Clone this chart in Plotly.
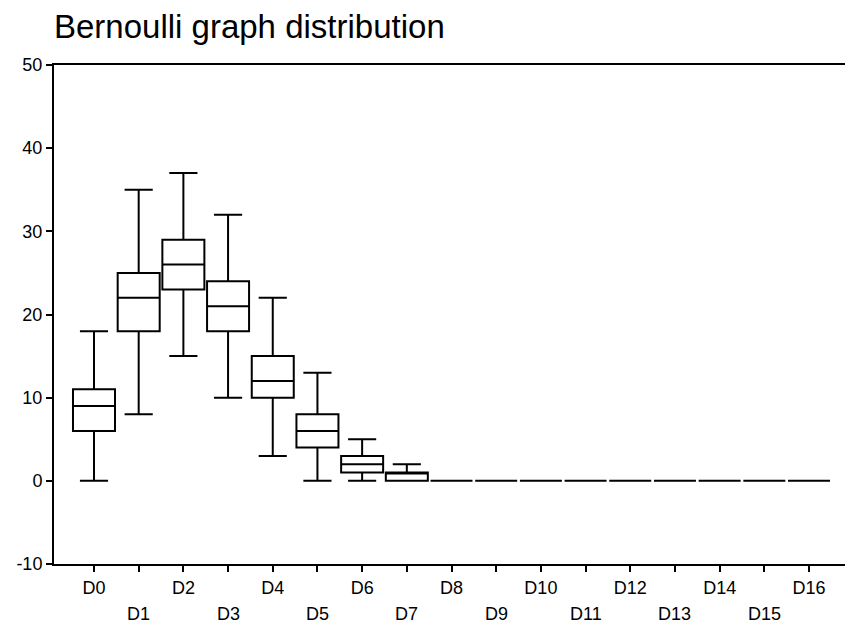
import plotly.graph_objects as go

categories = [f"D{i}" for i in range(17)]
positions = list(range(17))
lower = [0, 8, 15, 10, 3, 0, 0, 0, 0, 0, 0, 0, 0, 0, 0, 0, 0]
q1 = [6, 18, 23, 18, 10, 4, 1, 0, 0, 0, 0, 0, 0, 0, 0, 0, 0]
median = [9, 22, 26, 21, 12, 6, 2, 1, 0, 0, 0, 0, 0, 0, 0, 0, 0]
q3 = [11, 25, 29, 24, 15, 8, 3, 1, 0, 0, 0, 0, 0, 0, 0, 0, 0]
upper = [18, 35, 37, 32, 22, 13, 5, 2, 0, 0, 0, 0, 0, 0, 0, 0, 0]
y_ticks = [-10, 0, 10, 20, 30, 40, 50]
y_tick_labels = ["-10", "0", "10", "20", "30", "40", "50"]

FONT = "Arial, Liberation Sans, sans-serif"
xr = [-0.895, 16.805]

fig = go.Figure()
fig.add_trace(go.Box(
    x=positions, q1=q1, median=median, q3=q3,
    lowerfence=lower, upperfence=upper,
    width=0.94,
    fillcolor="rgba(255,255,255,0)",
    line=dict(color="black", width=2),
    whiskerwidth=0.67,
    boxpoints=False,
    hoverinfo="skip",
    showlegend=False,
))

# two-row category labels: even on first row (axis tick labels), odd on second row
for p in positions:
    if p % 2 == 1:
        fig.add_annotation(x=p, y=0, xref="x", yref="paper", text=categories[p],
                           showarrow=False, yanchor="middle", xanchor="center",
                           yshift=-50, font=dict(family=FONT, size=18, color="black"))

fig.update_layout(
    width=845, height=628,
    margin=dict(l=54, r=0, t=65, b=64, autoexpand=False),
    paper_bgcolor="white", plot_bgcolor="white",
    font=dict(family=FONT, size=18, color="black"),
    title=dict(text="Bernoulli graph distribution", x=54/845, xanchor="left",
               xref="container", y=1 - 26/628, yanchor="middle", yref="container",
               font=dict(family=FONT, size=33, color="black")),
    xaxis=dict(range=xr, tickmode="array", tickvals=positions,
               ticktext=[categories[p] if p % 2 == 0 else "" for p in positions],
               showline=True, linecolor="black", linewidth=2, mirror=True,
               ticks="outside", ticklen=6, tickwidth=2, tickcolor="black",
               showgrid=False, zeroline=False, tickfont=dict(size=18),
               automargin=False),
    yaxis=dict(range=[-10, 50], tickmode="array", tickvals=y_ticks,
               ticktext=y_tick_labels,
               showline=True, linecolor="black", linewidth=2,
               ticks="outside", ticklen=6, tickwidth=2, tickcolor="black",
               showgrid=False, zeroline=False, tickfont=dict(size=18),
               automargin=False),
)

fig.write_html("out.html",
               config={"displayModeBar": False},
               post_script="document.body.style.margin='0';document.body.style.overflow='hidden';")
